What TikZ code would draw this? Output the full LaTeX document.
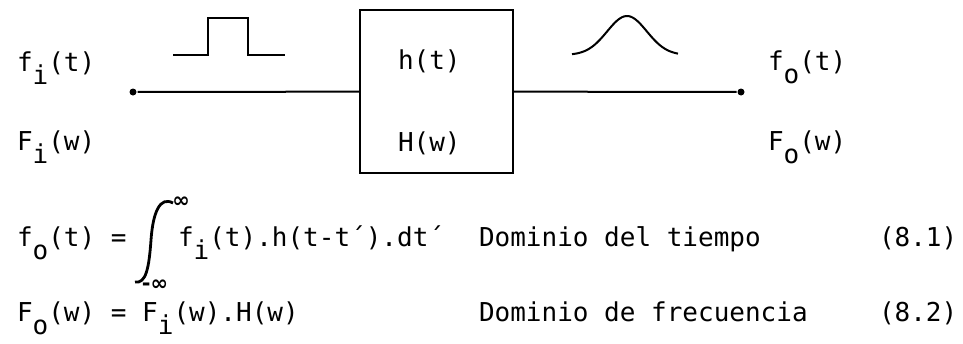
\documentclass[tikz,border=0pt]{standalone}
\usepackage{fontspec}
\setmonofont{DejaVu Sans Mono}
\newfontfamily\symfont{DejaVu Sans}
\newcommand{\lowch}[1]{\raisebox{-0.5em}{#1}}
\begin{document}
\begin{tikzpicture}[x=1pt, y=-1pt, line width=2pt,
  txt/.style={anchor=base west, inner sep=0pt, font=\ttfamily\fontsize{26}{30}\selectfont},
  term/.style={circle, fill=black, inner sep=0pt, minimum size=7pt},
  inf/.style={inner sep=0pt, font=\symfont\bfseries\fontsize{21}{21}\selectfont}]
\useasboundingbox (0,0) rectangle (963,343);
\node[txt] (fi) at (16,71) {f\lowch{i}(t)};
\node[txt] (Fi) at (16,150) {F\lowch{i}(w)};
\node[term] (in) at (133,92) {};
\node[draw, minimum width=153pt, minimum height=163pt, inner sep=0pt] (sys) at (436.5,91.5) {};
\node[txt] (ht) at (397,69) {h(t)};
\node[txt] (Hw) at (397,151) {H(w)};
\node[term] (out) at (741,92) {};
\node[txt] (fo) at (767,70) {f\lowch{o}(t)};
\node[txt] (Fo) at (767,150) {F\lowch{o}(w)};
\draw (in) -- (sys);
\draw (sys) -- (out);
\draw (173,55) -- (208,55) -- (208,18) -- (248,18) -- (248,55) -- (285,55);
\draw plot[domain=-55:51, samples=60] ({627+\x}, {55-39*exp(-(\x/28)^2)});
\node[txt] (eqa) at (16,246) {f\lowch{o}(t) =};
\draw[line width=2.8pt] (173,203) .. controls (160,196) and (153,212) .. (151,240) .. controls (149,268) and (146,284) .. (135,282);
\node[inf] (up) at (181,202) {∞};
\node[inf] (lo) at (155,285) {-∞};
\node[txt] (eqb) at (177,246) {f\lowch{i}(t).h(t-t´).dt´};
\node[txt] (dom1) at (478,246) {Dominio del tiempo};
\node[txt] (n1) at (878,246) {(8.1)};
\node[txt] (eqc) at (16,321) {F\lowch{o}(w) = F\lowch{i}(w).H(w)};
\node[txt] (dom2) at (478,321) {Dominio de frecuencia};
\node[txt] (n2) at (878,321) {(8.2)};
\end{tikzpicture}
\end{document}
